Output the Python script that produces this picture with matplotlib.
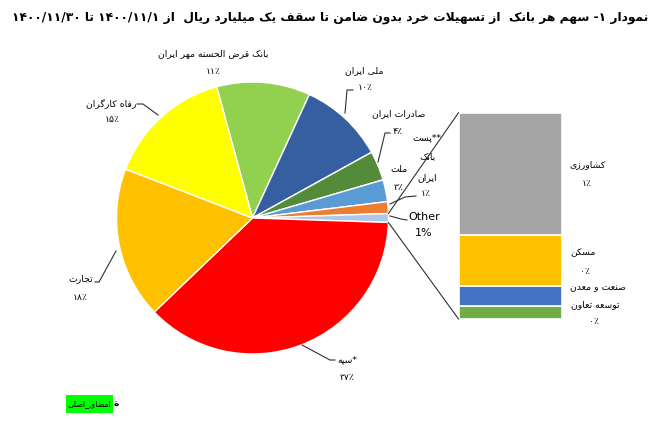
import matplotlib
matplotlib.use("Agg")
import matplotlib.pyplot as plt
from matplotlib.patches import Rectangle
import numpy as np

# ---------------- data ----------------
title_text = "نمودار ۱- سهم هر بانک  از تسهیلات خرد بدون ضامن تا سقف یک میلیارد ریال  از ۱۴۰۰/۱۱/۱ تا ۱۴۰۰/۱۱/۳۰"
pie_names = ["بانک قرض الحسنه مهر ایران", "ملی ایران", "صادرات ایران", "ملت",
             "**پست بانک ایران", "Other", "*سپه", "تجارت", "رفاه کارگران"]
pie_shares = [11.1, 10.1, 3.5, 2.6, 1.4, None, 37.3, 18.0, 14.9]   # None -> Other (sum of bar parts)
pie_colors = ["#92D050", "#355FA0", "#548B3A", "#5B9BD5", "#ED7D31",
              "#AEC6E8", "#FF0000", "#FFC000", "#FFFF00"]
bar_names = ["کشاورزی", "مسکن", "صنعت و معدن", "توسعه تعاون"]
bar_shares = [0.62, 0.26, 0.10, 0.065]
bar_colors = ["#A5A5A5", "#FFC000", "#4472C4", "#70AD47"]
stamp_text = "امضای_اصلی"

# ---------------- Persian shaping helpers ----------------
FORMS = {
    'ا': ('\uFE8D', '\uFE8E', None, None), 'آ': ('\uFE81', '\uFE82', None, None),
    'ب': ('\uFE8F', '\uFE90', '\uFE91', '\uFE92'), 'پ': ('\uFB56', '\uFB57', '\uFB58', '\uFB59'),
    'ت': ('\uFE95', '\uFE96', '\uFE97', '\uFE98'), 'ث': ('\uFE99', '\uFE9A', '\uFE9B', '\uFE9C'),
    'ج': ('\uFE9D', '\uFE9E', '\uFE9F', '\uFEA0'), 'چ': ('\uFB7A', '\uFB7B', '\uFB7C', '\uFB7D'),
    'ح': ('\uFEA1', '\uFEA2', '\uFEA3', '\uFEA4'), 'خ': ('\uFEA5', '\uFEA6', '\uFEA7', '\uFEA8'),
    'د': ('\uFEA9', '\uFEAA', None, None), 'ذ': ('\uFEAB', '\uFEAC', None, None),
    'ر': ('\uFEAD', '\uFEAE', None, None), 'ز': ('\uFEAF', '\uFEB0', None, None),
    'ژ': ('\uFB8A', '\uFB8B', None, None),
    'س': ('\uFEB1', '\uFEB2', '\uFEB3', '\uFEB4'), 'ش': ('\uFEB5', '\uFEB6', '\uFEB7', '\uFEB8'),
    'ص': ('\uFEB9', '\uFEBA', '\uFEBB', '\uFEBC'), 'ض': ('\uFEBD', '\uFEBE', '\uFEBF', '\uFEC0'),
    'ط': ('\uFEC1', '\uFEC2', '\uFEC3', '\uFEC4'), 'ظ': ('\uFEC5', '\uFEC6', '\uFEC7', '\uFEC8'),
    'ع': ('\uFEC9', '\uFECA', '\uFECB', '\uFECC'), 'غ': ('\uFECD', '\uFECE', '\uFECF', '\uFED0'),
    'ف': ('\uFED1', '\uFED2', '\uFED3', '\uFED4'), 'ق': ('\uFED5', '\uFED6', '\uFED7', '\uFED8'),
    'ک': ('\uFB8E', '\uFB8F', '\uFB90', '\uFB91'), 'گ': ('\uFB92', '\uFB93', '\uFB94', '\uFB95'),
    'ل': ('\uFEDD', '\uFEDE', '\uFEDF', '\uFEE0'), 'م': ('\uFEE1', '\uFEE2', '\uFEE3', '\uFEE4'),
    'ن': ('\uFEE5', '\uFEE6', '\uFEE7', '\uFEE8'), 'ه': ('\uFEE9', '\uFEEA', '\uFEEB', '\uFEEC'),
    'و': ('\uFEED', '\uFEEE', None, None), 'ی': ('\uFBFC', '\uFBFD', '\uFBFE', '\uFBFF'),
}
DUAL = set(k for k, v in FORMS.items() if v[2] is not None)
LTR = set('0123456789۰۱۲۳۴۵۶۷۸۹/.%٪')


def shape(s):
    out, i, n = [], 0, len(s)
    while i < n:
        c = s[i]
        p = i > 0 and s[i - 1] in DUAL
        if c == 'ل' and i + 1 < n and s[i + 1] in 'اآ':
            if s[i + 1] == 'ا':
                out.append('\uFEFC' if p else '\uFEFB')
            else:
                out.append('\uFEF6' if p else '\uFEF5')
            i += 2
            continue
        if c in FORMS:
            iso, fin, ini, med = FORMS[c]
            nx = c in DUAL and i + 1 < n and s[i + 1] in FORMS
            out.append(med if (p and nx) else fin if p else ini if nx else iso)
        else:
            out.append(c)
        i += 1
    return ''.join(out)


def vis(s):
    if all(ord(ch) < 128 for ch in s):
        return s
    t = shape(s)[::-1]
    res, run = [], []
    for ch in t:
        if ch in LTR:
            run.append(ch)
        else:
            if run:
                res.extend(run[::-1]); run = []
            res.append(ch)
    if run:
        res.extend(run[::-1])
    return ''.join(res)


def fa_digits(n):
    return ''.join("۰۱۲۳۴۵۶۷۸۹"[int(d)] for d in str(n))


# ---------------- layout ----------------
W, H = 659, 424
CX, CY, R = 252.5, 218.0, 136.0
BAR_X0, BAR_X1, BAR_TOP, BAR_BOT = 458.5, 561.5, 112.7, 319.0
FONT = ["DejaVu Sans"]
plt.rcParams['font.family'] = FONT

fig = plt.figure(figsize=(W / 100, H / 100), dpi=100)
fig.patch.set_facecolor("white")
ax = fig.add_axes([0, 0, 1, 1])


def Y(y):
    return H - y


other_idx = pie_shares.index(None)
vals = list(pie_shares)
vals[other_idx] = sum(bar_shares)
total = sum(vals)
deg = 360.0 / total
start = (sum(vals[:other_idx]) + vals[other_idx] / 2) * deg

ax.pie(vals, colors=pie_colors, startangle=start, counterclock=False,
       center=(CX, Y(CY)), radius=R,
       wedgeprops=dict(edgecolor="white", linewidth=1.0))
ax.set_xlim(0, W)
ax.set_ylim(0, H)
ax.set_aspect("auto")
ax.axis("off")

# bar of pie
bax = fig.add_axes([BAR_X0 / W, (H - BAR_BOT) / H, (BAR_X1 - BAR_X0) / W, (BAR_BOT - BAR_TOP) / H])
bottom = 0.0
for v, c in zip(bar_shares[::-1], bar_colors[::-1]):
    bax.bar(0, v, bottom=bottom, width=1.0, color=c, edgecolor="white", linewidth=1.2)
    bottom += v
bax.set_xlim(-0.5, 0.5)
bax.set_ylim(0, sum(bar_shares))
bax.axis("off")

# connector lines pie -> bar
half = vals[other_idx] / 2 * deg
for a, yb in ((half, BAR_TOP), (-half, BAR_BOT)):
    px = CX + R * np.cos(np.radians(a))
    py = Y(CY) + R * np.sin(np.radians(a))
    ax.plot([px, BAR_X0], [py, Y(yb)], color="#303030", lw=0.8)

LC = "#303030"
LS = 6.7
# label positions (pixel centres): name, percent
pie_label_pos = [
    ((213, 54), (213, 72)),
    ((364, 71), (365, 88)),
    ((399, 114), (398, 132)),
    ((399, 170), (399, 187)),
    (None, (426, 194)),
    ((424, 217), (424, 233)),
    ((347, 360), (347, 378)),
    ((81, 279), (80, 298)),
    ((111, 103), (112, 120)),
]
for i, (name, (npos, ppos)) in enumerate(zip(pie_names, pie_label_pos)):
    pct = round(vals[i] / total * 100)
    if name == "Other":
        ax.text(npos[0], Y(npos[1]), name, ha="center", va="center", fontsize=8.0, color="#000000")
        ax.text(ppos[0], Y(ppos[1]), f"{pct}%", ha="center", va="center", fontsize=8.0, color="#000000")
        continue
    if npos is None:
        words = name.split(" ")
        for w, yy in zip(words, (138, 157, 178)):
            ax.text(427, Y(yy), vis(w), ha="center", va="center", fontsize=LS)
    else:
        ax.text(npos[0], Y(npos[1]), vis(name), ha="center", va="center", fontsize=LS)
    ax.text(ppos[0], Y(ppos[1]), vis(fa_digits(pct) + "٪"), ha="center", va="center", fontsize=LS)

bar_label_pos = [((588, 165), (587, 183)), ((583, 253), (585, 272)),
                 ((598, 288), None), ((595, 305), (594, 322))]
for i, (name, (npos, ppos)) in enumerate(zip(bar_names, bar_label_pos)):
    pct = round(bar_shares[i] / total * 100)
    ax.text(npos[0], Y(npos[1]), vis(name), ha="center", va="center", fontsize=LS)
    if ppos is not None:
        ax.text(ppos[0], Y(ppos[1]), vis(fa_digits(pct) + "٪"), ha="center", va="center", fontsize=LS)

# leader lines
leaders = [
    [(137, 104), (143, 104), (158, 115)],
    [(353, 90), (347, 90), (345, 113)],
    [(390, 133), (385, 133), (378, 162)],
    [(416, 196), (405, 197), (390, 204)],
    [(407, 220), (401, 219), (390, 216)],
    [(335, 360), (330, 360), (302, 345)],
    [(95, 282), (99, 282), (116, 251)],
]
for pts in leaders:
    xs = [p[0] for p in pts]
    ys = [Y(p[1]) for p in pts]
    ax.plot(xs, ys, color=LC, lw=0.8)

# title, scaled to span the same width as the reference (about 644 px)
t = ax.text(330, Y(17), vis(title_text), ha="center", va="center", fontsize=10,
            fontweight="bold", color="#000000")
fig.canvas.draw()
w_px = t.get_window_extent(renderer=fig.canvas.get_renderer()).width
t.set_fontsize(10 * 640.0 / w_px)

# stamp (green highlighted text)
ax.add_patch(Rectangle((66, Y(413)), 47, 18, facecolor="#00FF00", edgecolor="none"))
st = ax.text(89.5, Y(404), vis(stamp_text), ha="center", va="center", fontsize=6.5, color="#000000")
fig.canvas.draw()
sw = st.get_window_extent(renderer=fig.canvas.get_renderer()).width
st.set_fontsize(6.5 * 44.0 / sw)
ax.text(114, Y(403), "\u0629", ha="left", va="center", fontsize=6.5,
        fontweight="bold", color="#000000")

fig.savefig("out.png", dpi=100, facecolor="white")
